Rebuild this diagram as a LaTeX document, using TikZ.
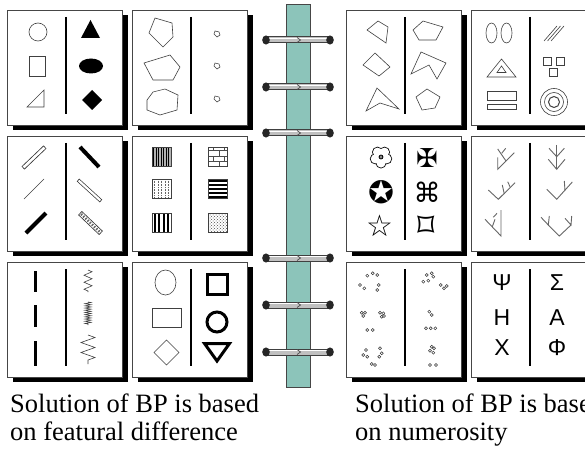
\documentclass[tikz,border=0pt]{standalone}
\usepackage{fontspec}
\setmainfont{Liberation Serif}
\newfontfamily\greekfont{Liberation Sans}
\newfontfamily\dingfont{DejaVu Sans}
\usetikzlibrary{calc, patterns, decorations.pathmorphing}
\definecolor{spineteal}{RGB}{140, 196, 186}
\definecolor{ringgray}{RGB}{192, 192, 192}
\definecolor{framegray}{RGB}{70, 70, 70}
\tikzset{
  card/.style        = {draw=framegray, fill=white, line width=0.8pt},
  cardshadow/.style  = {fill=black},
  divider/.style     = {line width=2pt, black},
  thinshape/.style   = {draw=black!75, line width=0.6pt},
  boldshape/.style   = {draw=black, line width=3pt},
  barout/.style      = {line width=4.2pt, black!80},
  barin/.style       = {line width=2.6pt, white, shorten <=0.8pt, shorten >=0.8pt},
  twig/.style        = {draw=black!60, line width=0.9pt},
  dotmark/.style     = {draw=black!80, line width=0.5pt, fill=white},
  caption/.style     = {font=\fontsize{26.5}{28}\selectfont, inner sep=0pt, anchor=base west},
  greek/.style       = {font=\greekfont\fontsize{23}{23}\selectfont, inner sep=0pt},
  ding/.style        = {font=\dingfont\fontsize{27}{27}\selectfont, inner sep=0pt},
}
\newcommand{\cardframe}{%
  \fill[cardshadow] (6,5) rectangle (121,120);
  \draw[card] (0,0) rectangle (115,115);
  \draw[divider] (59,7) -- (59,104);
}

\begin{document}
\begin{tikzpicture}[
    x=1pt, y=-1pt,
    ringbar/.style={line width=7pt, black!75},
    ringcore/.style={line width=5pt, ringgray}
]
\useasboundingbox (0,0) rectangle (585,449);
\fill[white] (0,0) rectangle (585,449);

% 书脊与线圈
\draw[draw=framegray, fill=spineteal, line width=0.8pt] (286,4) rectangle (310,387);
\foreach \y in {40,87,133,258,305,352} {
  \draw[ringbar] (266,\y) -- (330,\y);
  \draw[ringcore] (266,\y) -- (330,\y);
  \draw[line width=1.3pt, white] (269,\y-1.2) -- (327,\y-1.2);
  \draw[black!70, line width=0.7pt] (297,\y-2.5) -- (300.5,\y) -- (297,\y+2.5);
  \fill[black!85] (266,\y) ellipse [x radius=3.8, y radius=4.6];
  \fill[black!85] (330,\y) ellipse [x radius=3.8, y radius=4.6];
}

% 左页 第一行：形状 / 实心
\begin{scope}[shift={(7,10)}]
  \cardframe
  \draw[thinshape] (31,22) circle (9);
  \draw[thinshape] (22,46) rectangle (38,66);
  \draw[thinshape] (20,97) -- (37,97) -- (37,80) -- cycle;
  \fill (74,28) -- (93,28) -- (83.5,10) -- cycle;
  \fill (84,56) ellipse [x radius=12, y radius=7.5];
  \fill (85,80) -- (95,90) -- (85,100) -- (75,90) -- cycle;
\end{scope}

% 左页 第一行：大 / 小
\begin{scope}[shift={(132,10)}]
  \cardframe
  \draw[thinshape] (23,8) -- (40,13) -- (41,27) -- (31,37) -- (17,23) -- cycle;
  \draw[thinshape] (12,53) -- (38,45) -- (48,57) -- (41,70) -- (21,70) -- cycle;
  \draw[thinshape] (15,90) -- (21,82) -- (33,79) -- (46,85) -- (45,100) -- (28,105) -- (15,100) -- cycle;
  \foreach \yy in {24,56,89}
    \draw[thinshape, shift={(85,\yy)}] (-2,-3) -- (2,-2) -- (3,1) -- (0,3) -- (-3,0) -- cycle;
\end{scope}

% 左页 第二行：线段方向
\begin{scope}[shift={(7,136)}]
  \cardframe
  \draw[barout] (16,32) -- (38,11);
  \draw[barin] (16,32) -- (38,11);
  \draw[thinshape] (17,63) -- (37,43);
  \draw[line width=4pt] (19,97) -- (39,77);
  \draw[line width=4pt] (73,11) -- (92,31);
  \draw[line width=3.6pt, black!80] (71,44) -- (94,65);
  \draw[line width=2.2pt, white, shorten <=0.8pt, shorten >=0.8pt] (71,44) -- (94,65);
  \draw[line width=5.4pt, black!80] (73,77) -- (94,97);
  \draw[line width=3.8pt, white, shorten <=0.8pt, shorten >=0.8pt] (73,77) -- (94,97);
  \draw[line width=2.4pt, black!60, dash pattern=on 1.5pt off 1.5pt, shorten <=1.5pt, shorten >=1.5pt] (73,77) -- (94,97);
\end{scope}

% 左页 第二行：纹理
\begin{scope}[shift={(132,136)}]
  \cardframe
  \fill[black!30] (20,11) rectangle (39,30);
  \foreach \x in {21.5,24,...,38} \draw[line width=0.9pt] (\x,11) -- (\x,30);
  \draw[thinshape] (20,11) rectangle (39,30);
  \foreach \x in {22.5,26,...,37} \draw[black!60, line width=0.6pt, densely dotted] (\x,43) -- (\x,62);
  \draw[thinshape] (20,43) rectangle (39,62);
  \foreach \x in {22.5,27,...,37} \draw[line width=2pt] (\x,77) -- (\x,96);
  \draw[thinshape] (20,77) rectangle (39,96);
  \draw[thinshape, pattern=bricks, pattern color=black!70] (76,11) rectangle (95,30);
  \foreach \y in {45,49,...,61} \draw[line width=2pt] (76,\y) -- (95,\y);
  \draw[thinshape] (76,43) rectangle (95,62);
  \draw[thinshape, pattern=crosshatch dots, pattern color=black!70] (76,77) rectangle (95,96);
\end{scope}

% 左页 第三行：虚线 / 折线
\begin{scope}[shift={(7,262)}]
  \cardframe
  \draw[line width=3pt] (28,9) -- (28,30);
  \draw[line width=3pt] (28,43) -- (28,65);
  \draw[line width=3pt] (28,79) -- (28,104);
  \draw[thinshape, decorate, decoration={zigzag, segment length=7pt, amplitude=4pt}] (81,8) -- (81,30);
  \draw[thinshape, decorate, decoration={zigzag, segment length=2.2pt, amplitude=3pt}] (81,40) -- (81,63);
  \draw[thinshape, decorate, decoration={zigzag, segment length=10pt, amplitude=7pt}] (81,73) -- (81,102);
\end{scope}

% 左页 第三行：细线 / 粗线
\begin{scope}[shift={(132,262)}]
  \cardframe
  \draw[thinshape] (33.5,20.5) ellipse [x radius=10.5, y radius=12.5];
  \draw[thinshape] (20,46) rectangle (49,65);
  \draw[thinshape] (34.5,78) -- (47,90.5) -- (34.5,103) -- (22,90.5) -- cycle;
  \draw[boldshape] (75.5,12.5) rectangle (95.5,32.5);
  \draw[boldshape] (85,60) circle (10);
  \draw[boldshape] (72.5,81.5) -- (97.5,81.5) -- (85,99) -- cycle;
\end{scope}

% 右页 第一行：凸 / 凹
\begin{scope}[shift={(346,10)}]
  \cardframe
  \draw[thinshape] (21,20) -- (32,11) -- (42,17) -- (40,33) -- cycle;
  \draw[thinshape] (17,55) -- (29,43) -- (44,57) -- (33,66) -- cycle;
  \draw[thinshape] (20,101) -- (31,78) -- (53,99) -- (34,93) -- cycle;
  \draw[thinshape] (67,20) -- (77,11) -- (97,17) -- (90,30) -- (73,30) -- cycle;
  \draw[thinshape] (65,64) -- (75,42) -- (100,53) -- (91,69) -- (83,55) -- (73,60) -- cycle;
  \draw[thinshape] (70,87) -- (81,79) -- (94,87) -- (89,98) -- (76,100) -- cycle;
\end{scope}

% 右页 第一行：图形个数
\begin{scope}[shift={(471,10)}]
  \cardframe
  \draw[thinshape] (20.5,23) ellipse [x radius=5.5, y radius=10];
  \draw[thinshape] (35.5,23) ellipse [x radius=5.5, y radius=10];
  \draw[thinshape] (16,67) -- (30.5,49) -- (45,67) -- cycle;
  \draw[thinshape] (26,62.5) -- (30.5,56) -- (35,62.5) -- cycle;
  \draw[thinshape] (16,81) rectangle (45,90);
  \draw[thinshape] (16,94) rectangle (45,99);
  \foreach \d in {0,3.5,7} \draw[thinshape] (73+\d,31) -- (86+\d,16);
  \draw[thinshape] (72,47) rectangle (80,55);
  \draw[thinshape] (85,47) rectangle (93,55);
  \draw[thinshape] (78.5,58) rectangle (86.5,66);
  \draw[thinshape] (83,92) circle (13.5);
  \draw[thinshape] (83,92) circle (9.5);
  \draw[thinshape, line width=1pt] (83,92) circle (5.5);
\end{scope}

% 右页 第二行：符号
\begin{scope}[shift={(346,136)}]
  \cardframe
  % 花形
  \foreach \a in {90,162,234,306,378} \draw[line width=1.6pt] ($(35,21)+(\a:6)$) circle (4.6);
  \foreach \a in {90,162,234,306,378} \fill[white] ($(35,21)+(\a:6)$) circle (4.6);
  \draw[line width=0.7pt] (35,21) circle (2);
  \node[ding, font=\dingfont\fontsize{31}{31}\selectfont] (circstar) at (35,56) {✪};
  \node[ding, font=\dingfont\fontsize{30}{30}\selectfont] (whitestar) at (34,90) {☆};
  \node[ding, font=\dingfont\fontsize{26}{26}\selectfont] (maltese) at (81,22) {✠};
  \node[ding] (cmdkey) at (81,56) {⌘};
  \node[ding, font=\dingfont\fontsize{34}{34}\selectfont] (sqloz) at (80,91) {⌑};
\end{scope}

% 右页 第二行：分枝
\begin{scope}[shift={(471,136)}]
  \cardframe
  \draw[twig] (26.7,21.3) -- (26.7,33.3) -- (43.3,16.7);
  \draw[twig] (35,25) -- (26.7,13);
  \draw[twig] (30.7,17.3) -- (34.7,12.3);
  \draw[twig] (17.3,54) -- (27.3,63.3) -- (44,46.7);
  \draw[twig] (33.3,58) -- (31.3,49);
  \draw[twig] (39,50.7) -- (36.7,45.7);
  \draw[twig] (30,74) -- (30,100) -- (14,83.3);
  \draw[twig] (21.3,90.7) -- (24,83.3);
  \draw[twig] (26,77.3) -- (22.3,81.3);
  \draw[twig] (85.7,9) -- (85.7,33.3);
  \draw[twig] (77.3,23.3) -- (85.7,33.3) -- (94,23.3);
  \draw[twig] (78,12.3) -- (85.7,20.7) -- (93.3,12.3);
  \draw[twig] (75.7,53.3) -- (85.7,63.3) -- (101.3,46);
  \draw[twig] (94,54.7) -- (93.3,45);
  \draw[twig] (77.3,89) -- (88.3,100) -- (100,89);
  \draw[twig] (78.3,80) -- (77.3,89) -- (70,81.3);
  \draw[twig] (100.7,80) -- (100,89) -- (94,82.3);
\end{scope}

% 右页 第三行：点数
\begin{scope}[shift={(346,262)}]
  \cardframe
  \foreach \p in {(21.3,13.7),(26.7,11.3),(31.3,13),(14,23),(18.3,26.3),(32.7,23),(31.3,28),
                  (15.7,50.7),(19,50.7),(17.3,54),(34,50.7),(37.3,51.3),(35.7,54.7),(38,54),(21.3,68),(26.7,68),
                  (20,88),(17.3,93),(21.3,94.7),(34,86.3),(35.7,91.3),(33.3,94.7),(25.7,102),(29,103),
                  (80.7,13),(85.7,11.3),(87.3,14.7),(77.3,19.7),(82.3,18.7),(94.7,23),(98,26.3),(100.7,24),
                  (83.3,49.7),(85.7,53),(80,66.3),(84.7,66.3),(89.3,66.3),
                  (85.7,84.7),(88,86.3),(84,88.7),(87.3,90.7),(84,103),(90,103)}
    \draw[dotmark] \p circle (1.5);
\end{scope}

% 右页 第三行：希腊字母
\begin{scope}[shift={(471,262)}]
  \cardframe
  \node[greek] (psi) at (31,21) {Ψ};
  \node[greek] (eta) at (31,56) {Η};
  \node[greek] (chi) at (31,86) {Χ};
  \node[greek] (sigma) at (86,21) {Σ};
  \node[greek] (alpha) at (86,56) {Α};
  \node[greek] (phi) at (86,86) {Φ};
\end{scope}

% 说明文字
\node[caption] (featline1) at (10,412) {Solution of BP is based};
\node[caption] (featline2) at (10,440) {on featural difference};
\node[caption] (numline1) at (355,412) {Solution of BP is based};
\node[caption] (numline2) at (355,440) {on numerosity};

\end{tikzpicture}
\end{document}
